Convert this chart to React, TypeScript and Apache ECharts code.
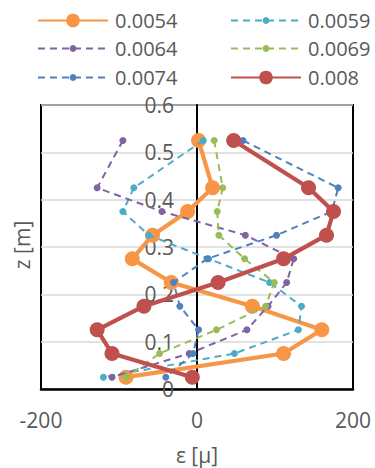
import React, { useEffect, useRef } from "react";
import * as echarts from "echarts";

const zLevels = [0.525, 0.425, 0.375, 0.325, 0.275, 0.225, 0.175, 0.125, 0.075, 0.025];
const seriesNames = ["0.0054", "0.0059", "0.0064", "0.0069", "0.0074", "0.008"];
const s0054 = [2, 20, -12, -57, -83, -33, 71, 160, 111, -91];
const s0059 = [8, -81, -95, -62, 15, 93, 134, 130, 48, -120];
const s0064 = [-95, -128, -45, 62, 124, 115, 91, 64, -10, -109];
const s0069 = [22, 33, 26, 28, 61, 99, 88, 25, -48, -91];
const s0074 = [59, 181, 173, 102, 13, -30, -22, 2, -5, -40];
const s0080 = [47, 143, 175, 166, 111, 27, -68, -128, -109, -6];
const xTicks = [-200, 0, 200];
const yTicks = [0, 0.1, 0.2, 0.3, 0.4, 0.5, 0.6];

const colors = ["#F79646", "#4BACC6", "#8064A2", "#9BBB59", "#4F81BD", "#C0504D"];
const bold = [true, false, false, false, false, true];
const values = [s0054, s0059, s0064, s0069, s0074, s0080];

const FONT = "'Open Sans', sans-serif";
const GREY = "#595959";

const W = 375;
const H = 468;
const GRID_LEFT = 41;
const GRID_RIGHT = 22;

export default function App() {
  const ref = useRef<HTMLDivElement>(null);
  useEffect(() => {
    if (!ref.current) return;
    const chart = echarts.init(ref.current, null, { renderer: "svg" });
    const series = seriesNames.map((name, i) => ({
      name,
      type: "line",
      data: values[i].map((x, k) => [x, zLevels[k]]),
      symbol: "circle",
      symbolSize: bold[i] ? 15 : 7,
      itemStyle: { color: colors[i] },
      lineStyle: bold[i]
        ? { color: colors[i], width: 4.2, type: "solid" }
        : { color: colors[i], width: 2, type: [7, 5] },
      z: 2 + i,
    }));
    const rows = [20.5, 48.5, 77.5];
    const legends = seriesNames.map((name, i) => {
      const h = bold[i] ? 17 : 8.5;
      const row = Math.floor(i / 2);
      const col = i % 2;
      return {
        data: [name],
        left: col === 0 ? 37 : 230,
        top: rows[row] - 12,
        padding: 0,
        itemWidth: 70,
        itemHeight: h,
        itemGap: 6,
        textStyle: { fontSize: 20, color: GREY, fontFamily: FONT, lineHeight: 24, padding: [0, 0, 0, 2] },
      };
    });
    const xMin = xTicks[0];
    const xMax = xTicks[xTicks.length - 1];
    const plotW = W - GRID_LEFT - GRID_RIGHT;
    const zeroOffset = -((0 - xMin) / (xMax - xMin)) * plotW;
    chart.setOption({
      animation: false,
      textStyle: { fontFamily: FONT },
      legend: legends,
      grid: {
        left: GRID_LEFT,
        right: GRID_RIGHT,
        top: 105,
        bottom: 79,
        show: true,
        borderColor: "#000",
        borderWidth: 2,
        containLabel: false,
        outerBoundsMode: "none",
      },
      xAxis: {
        type: "value",
        min: xMin,
        max: xMax,
        interval: xTicks[1] - xTicks[0],
        name: "ε [μ]",
        nameLocation: "middle",
        nameGap: 55,
        nameTextStyle: { fontSize: 21, color: GREY, fontFamily: FONT, lineHeight: 22 },
        axisLine: { show: true, lineStyle: { color: "#000", width: 2.5 } },
        axisTick: { show: false },
        axisLabel: { fontSize: 21, color: GREY, fontFamily: FONT, margin: 20 },
        splitLine: { show: false },
      },
      yAxis: {
        type: "value",
        position: "left",
        offset: zeroOffset,
        min: yTicks[0],
        max: yTicks[yTicks.length - 1],
        interval: 0.1,
        axisLine: { show: true, onZero: false, lineStyle: { color: "#000", width: 2 } },
        axisTick: { show: false },
        axisLabel: {
          fontSize: 21,
          color: GREY,
          fontFamily: FONT,
          margin: 23,
          formatter: (v: number) => String(Math.round(v * 10) / 10),
        },
        splitLine: { show: true, lineStyle: { color: "#D9D9D9", width: 1.5 } },
      },
      graphic: [
        {
          type: "text",
          x: 22,
          y: 245,
          rotation: Math.PI / 2,
          style: {
            text: "z [m]",
            fontSize: 21,
            fill: GREY,
            fontFamily: FONT,
            align: "center",
            verticalAlign: "middle",
          },
        },
      ],
      series,
    });
    return () => chart.dispose();
  }, []);
  return (
    <div
      ref={ref}
      style={{ position: "fixed", left: 0, top: 0, width: W, height: H, background: "#fff" }}
    />
  );
}
